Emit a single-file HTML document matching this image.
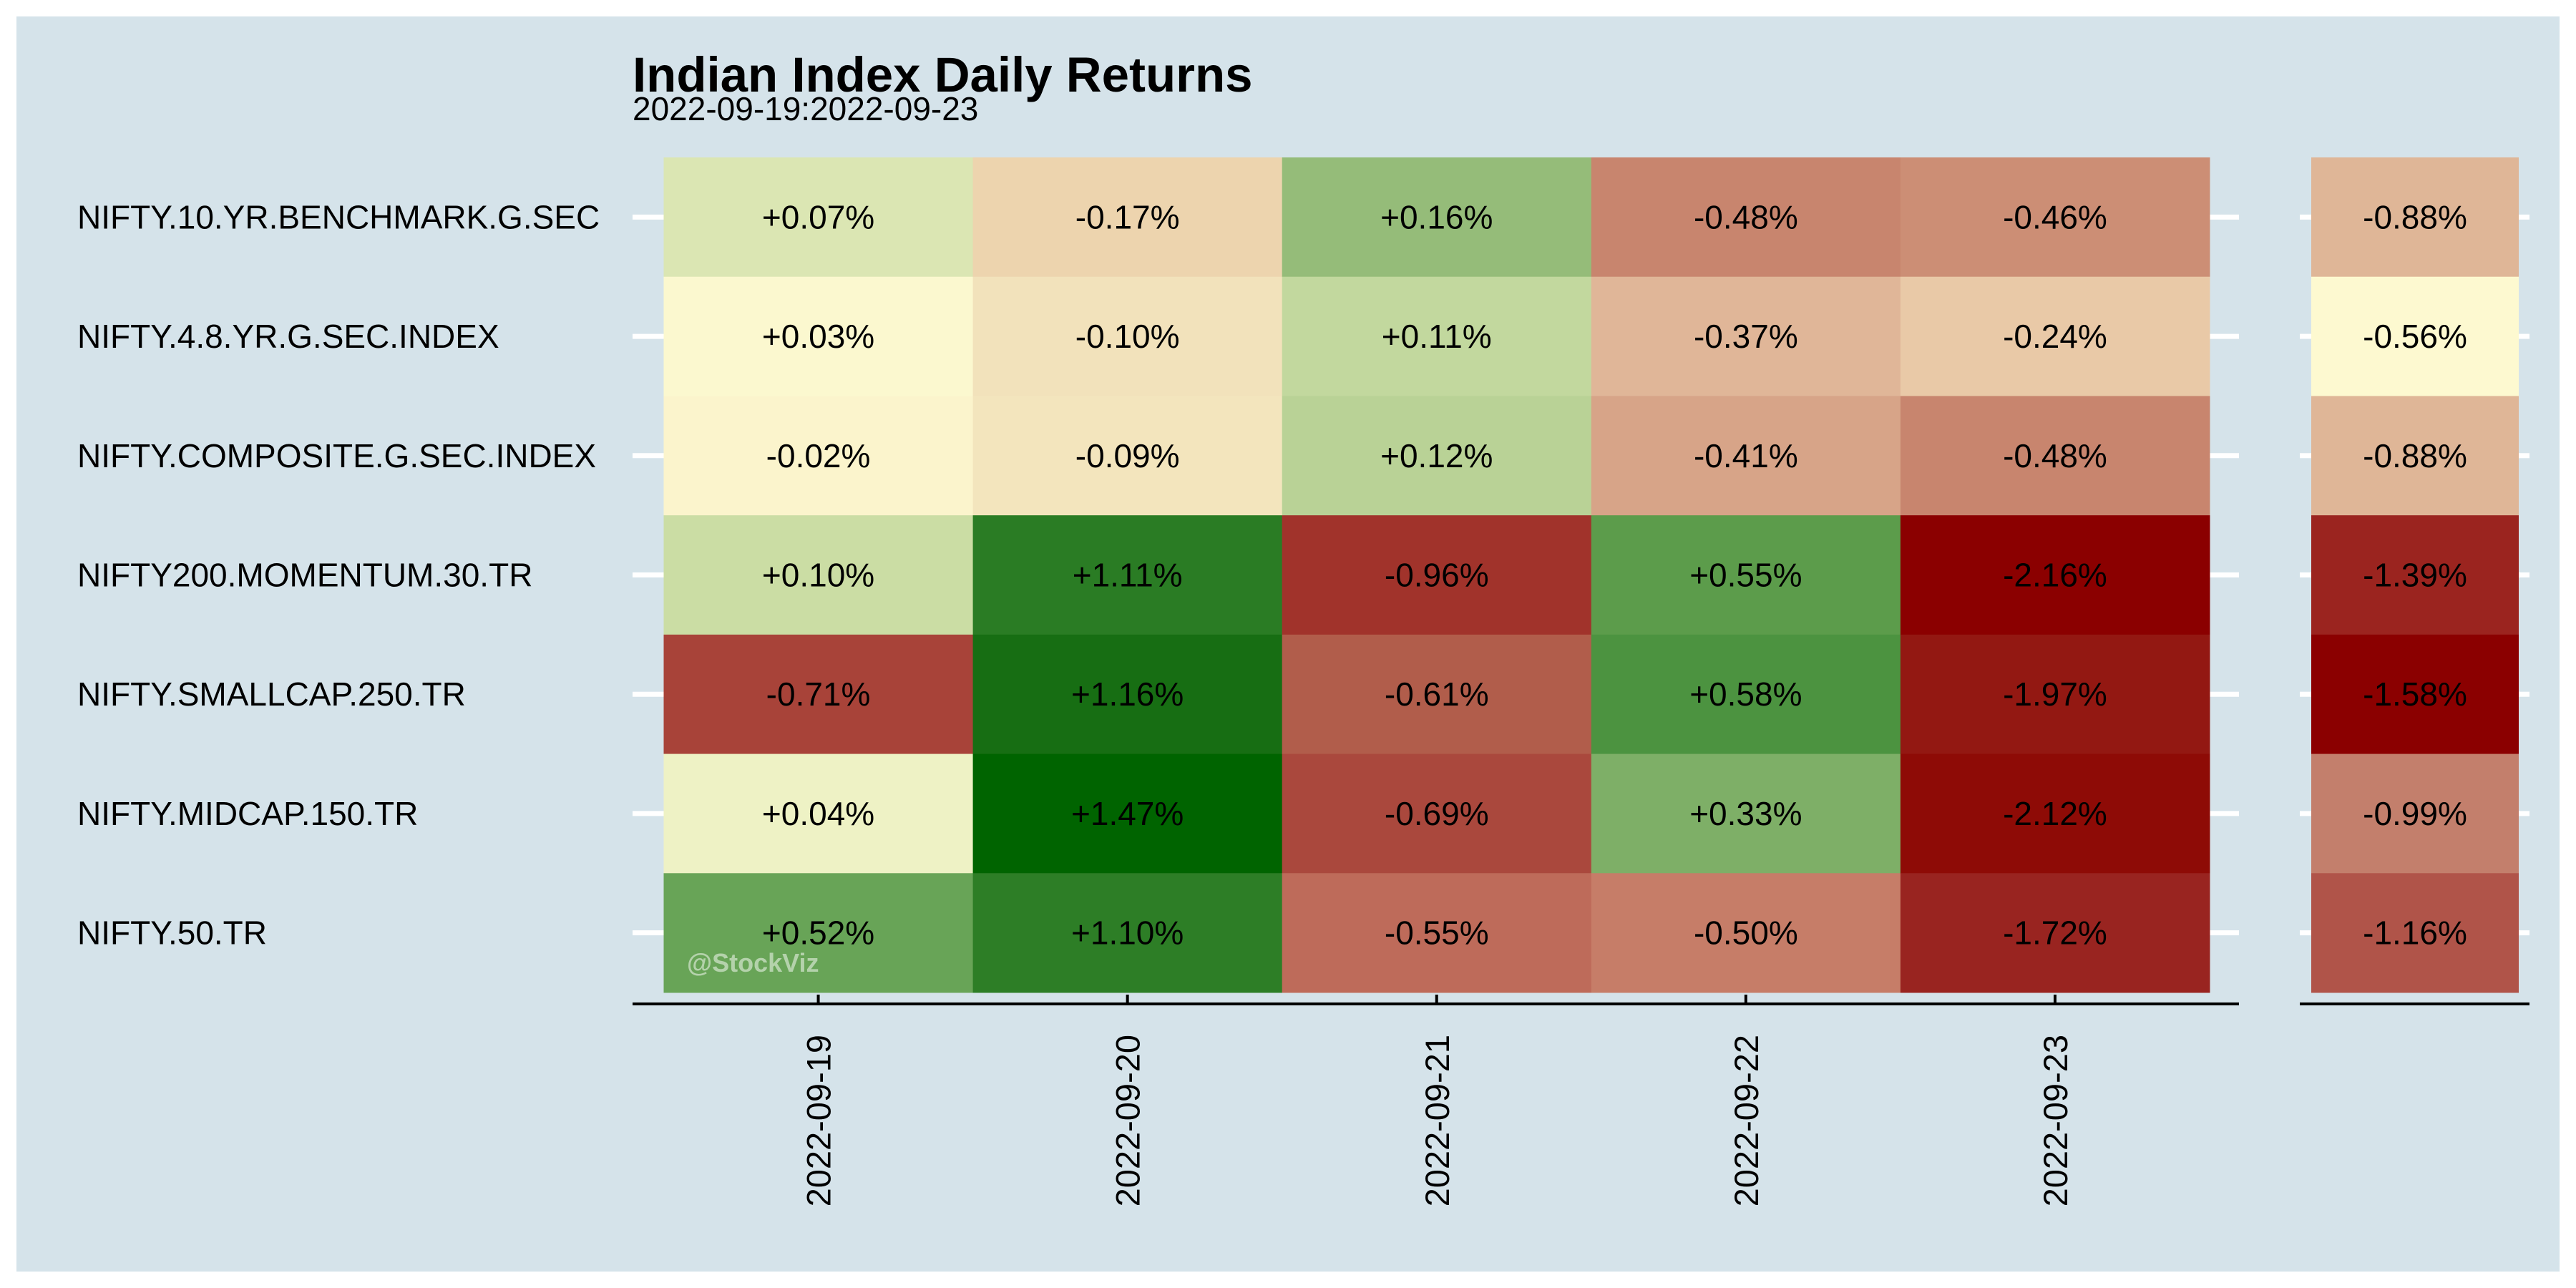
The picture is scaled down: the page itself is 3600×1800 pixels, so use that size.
<!DOCTYPE html>
<html><head><meta charset="utf-8"><style>
html,body{margin:0;padding:0;background:#fff;width:3600px;height:1800px;overflow:hidden}
svg{display:block;font-family:"Liberation Sans",Arial,sans-serif}
</style></head><body>
<svg id="chart" width="3600" height="1800" viewBox="0 0 3600 1800" xmlns="http://www.w3.org/2000/svg">
<rect x="23" y="23" width="3554" height="1754" fill="#d5e3ea"/>
<text x="884" y="128" font-size="69" font-weight="bold" fill="#000">Indian Index Daily Returns</text>
<text x="884" y="168" font-size="46" fill="#000">2022-09-19:2022-09-23</text>
<g id="main"></g>
<g id="side"></g>
</svg>
<script>
const rows = ["NIFTY.10.YR.BENCHMARK.G.SEC","NIFTY.4.8.YR.G.SEC.INDEX","NIFTY.COMPOSITE.G.SEC.INDEX","NIFTY200.MOMENTUM.30.TR","NIFTY.SMALLCAP.250.TR","NIFTY.MIDCAP.150.TR","NIFTY.50.TR"];
const dates = ["2022-09-19","2022-09-20","2022-09-21","2022-09-22","2022-09-23"];
const ret0919 = [0.07,0.03,-0.02,0.10,-0.71,0.04,0.52];
const ret0920 = [-0.17,-0.10,-0.09,1.11,1.16,1.47,1.10];
const ret0921 = [0.16,0.11,0.12,-0.96,-0.61,-0.69,-0.55];
const ret0922 = [-0.48,-0.37,-0.41,0.55,0.58,0.33,-0.50];
const ret0923 = [-0.46,-0.24,-0.48,-2.16,-1.97,-2.12,-1.72];
const cumulative = [-0.88,-0.56,-0.88,-1.39,-1.58,-0.99,-1.16];

const NS="http://www.w3.org/2000/svg";
function mk(tag,attrs,parent){const e=document.createElementNS(NS,tag);for(const k in attrs)e.setAttribute(k,attrs[k]);parent.appendChild(e);return e;}
function hex(h){return [parseInt(h.slice(1,3),16),parseInt(h.slice(3,5),16),parseInt(h.slice(5,7),16)];}
function ramp(stops,t){t=Math.max(0,Math.min(1,t));for(let i=1;i<stops.length;i++){if(t<=stops[i][0]){const a=stops[i-1],b=stops[i];const f=(t-a[0])/(b[0]-a[0]||1);const ca=hex(a[1]),cb=hex(b[1]);return "rgb("+ca.map((v,j)=>Math.round(v+(cb[j]-v)*f)).join(",")+")";}}return stops[stops.length-1][1];}
const redStops=[[0,"#fdf9d0"],[0.045,"#f2e3bb"],[0.08,"#edd3ae"],[0.17,"#e1b799"],[0.22,"#c9876f"],[0.25,"#c06d5c"],[0.28,"#b15e4c"],[0.33,"#a84239"],[0.45,"#a1322a"],[0.8,"#992420"],[0.91,"#931812"],[0.98,"#8e0c07"],[1,"#8b0000"]];
const greenStops=[[0,"#fdf9d0"],[0.021,"#fbf8cf"],[0.028,"#ecf1c4"],[0.05,"#d9e5b1"],[0.07,"#c9dca3"],[0.11,"#93bb78"],[0.22,"#7faf67"],[0.35,"#6aa559"],[0.375,"#5b9c4b"],[0.4,"#48903d"],[0.75,"#2d7e26"],[0.79,"#166e13"],[1,"#006400"]];
const sideStops=[[0,"#fdf9d0"],[0.31,"#e0b898"],[0.42,"#c37f6c"],[0.59,"#b05449"],[0.81,"#9b2520"],[1,"#8b0000"]];

const cols=[ret0919,ret0920,ret0921,ret0922,ret0923];
const all=cols.flat();const vmin=Math.min(...all),vmax=Math.max(...all);
function mainColor(v){return v>=0?ramp(greenStops,v/vmax):ramp(redStops,v/vmin);}
const smin=Math.min(...cumulative),smax=Math.max(...cumulative);
function sideColor(v){return ramp(sideStops,(smax-v)/(smax-smin));}

const X0=927.5,X1=3088,Y0=220,Y1=1387;
const cw=(X1-X0)/dates.length, rh=(Y1-Y0)/rows.length;
const xPos=i=>X0+i*cw, yPos=r=>Y0+r*rh;
function fmt(v){return (v>0?"+":"")+v.toFixed(2)+"%";}

const g=document.getElementById("main");
rows.forEach((name,r)=>{
  const cy=yPos(r)+rh/2;
  const t=mk("line",{x1:884,x2:X0,y1:cy,y2:cy,stroke:"#fff","stroke-width":7},g);
  
  
  const t2=mk("line",{x1:X1,x2:3129,y1:cy,y2:cy,stroke:"#fff","stroke-width":7},g);
  
  
  const lb=mk("text",{x:108,y:cy+16,"font-size":46,fill:"#000"},g);
  lb.textContent=name;
  
  
});
cols.forEach((col,c)=>{
  col.forEach((v,r)=>{
    const rc=mk("rect",{x:xPos(c),y:yPos(r),width:cw+0.5,height:rh+0.5,fill:mainColor(v)},g);
    
    
    const tx=mk("text",{x:xPos(c)+cw/2,y:yPos(r)+rh/2+16,"font-size":46,"text-anchor":"middle",fill:"#000"},g);
    tx.textContent=fmt(v);
    
    
  });
  const cx=xPos(c)+cw/2;
  const tk=mk("line",{x1:cx,x2:cx,y1:1390,y2:1403,stroke:"#000","stroke-width":4},g);
  
  
  const xl=mk("text",{x:0,y:0,"font-size":47,"text-anchor":"end",fill:"#000",transform:"translate("+(cx+17)+",1446) rotate(-90)"},g);
  xl.textContent=dates[c];
  
  
});
const ax=mk("line",{x1:884,x2:3129,y1:1403,y2:1403,stroke:"#000","stroke-width":4},g);


const wm=mk("text",{x:960,y:1358,"font-size":36,"font-weight":"bold",fill:"#fff","fill-opacity":0.5},g);
wm.textContent="@StockViz";



const s=document.getElementById("side");
const SX0=3230,SX1=3520;
cumulative.forEach((v,r)=>{
  const cy=yPos(r)+rh/2;
  const a=mk("line",{x1:3214,x2:SX0,y1:cy,y2:cy,stroke:"#fff","stroke-width":7},s);
  
  
  const b=mk("line",{x1:SX1,x2:3535,y1:cy,y2:cy,stroke:"#fff","stroke-width":7},s);
  
  
  const rc=mk("rect",{x:SX0,y:yPos(r),width:SX1-SX0,height:rh+0.5,fill:sideColor(v)},s);
  
  
  const tx=mk("text",{x:(SX0+SX1)/2,y:cy+16,"font-size":46,"text-anchor":"middle",fill:"#000"},s);
  tx.textContent=fmt(v);
  
  
});
const sx=mk("line",{x1:3214,x2:3535,y1:1403,y2:1403,stroke:"#000","stroke-width":4},s);


</script>
</body></html>
